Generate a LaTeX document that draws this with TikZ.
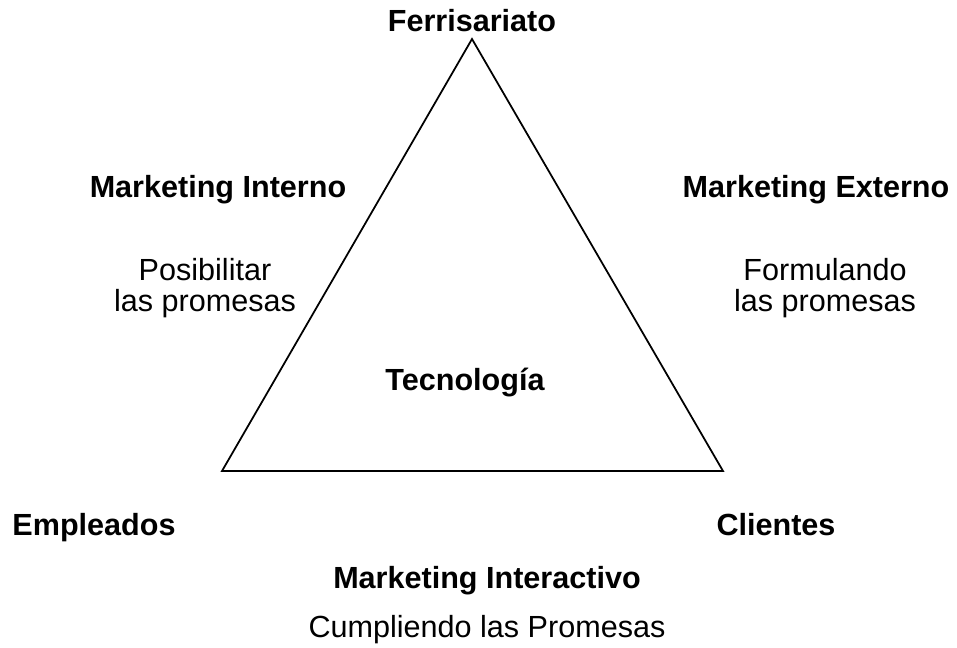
\documentclass[tikz,border=0pt]{standalone}
\usepackage{fontspec}
\setmainfont{Liberation Sans}
\colorlet{lado}{black}
\tikzset{titulo/.style={font=\fontsize{17.4}{20}\selectfont\bfseries, anchor=base},
	texto/.style={font=\fontsize{17.4}{17.6}\selectfont, anchor=base, align=center},
	lados/.style={draw=lado, line width=1pt, line join=miter}}

\begin{document}
\begin{tikzpicture}[x=0.02cm, y=-0.02cm]
		\useasboundingbox (0,0) rectangle (957,647);
		% vertices of the triangle
		\coordinate (arriba) at (472,39);
		\coordinate (izq) at (222,471);
		\coordinate (der) at (723,471);
		\draw[lados] (arriba) -- (der) -- (izq) -- cycle;
		
		\node[titulo] (ferri) at (472,31) {Ferrisariato};
		\node[titulo] (mint) at (218,197) {Marketing Interno};
		\node[titulo] (mext) at (816,197) {Marketing Externo};
		\node[texto] (posib) at (205,311) {Posibilitar\\las promesas};
		\node[texto] (formu) at (825,311) {Formulando\\las promesas};
		\node[titulo] (tecno) at (465,390) {Tecnología};
		\node[titulo] (emple) at (94,535) {Empleados};
		\node[titulo] (clien) at (776,535) {Clientes};
		\node[titulo] (minter) at (487,588) {Marketing Interactivo};
		\node[texto] (cumpl) at (487,637) {Cumpliendo las Promesas};
		\end{tikzpicture}
\end{document}
